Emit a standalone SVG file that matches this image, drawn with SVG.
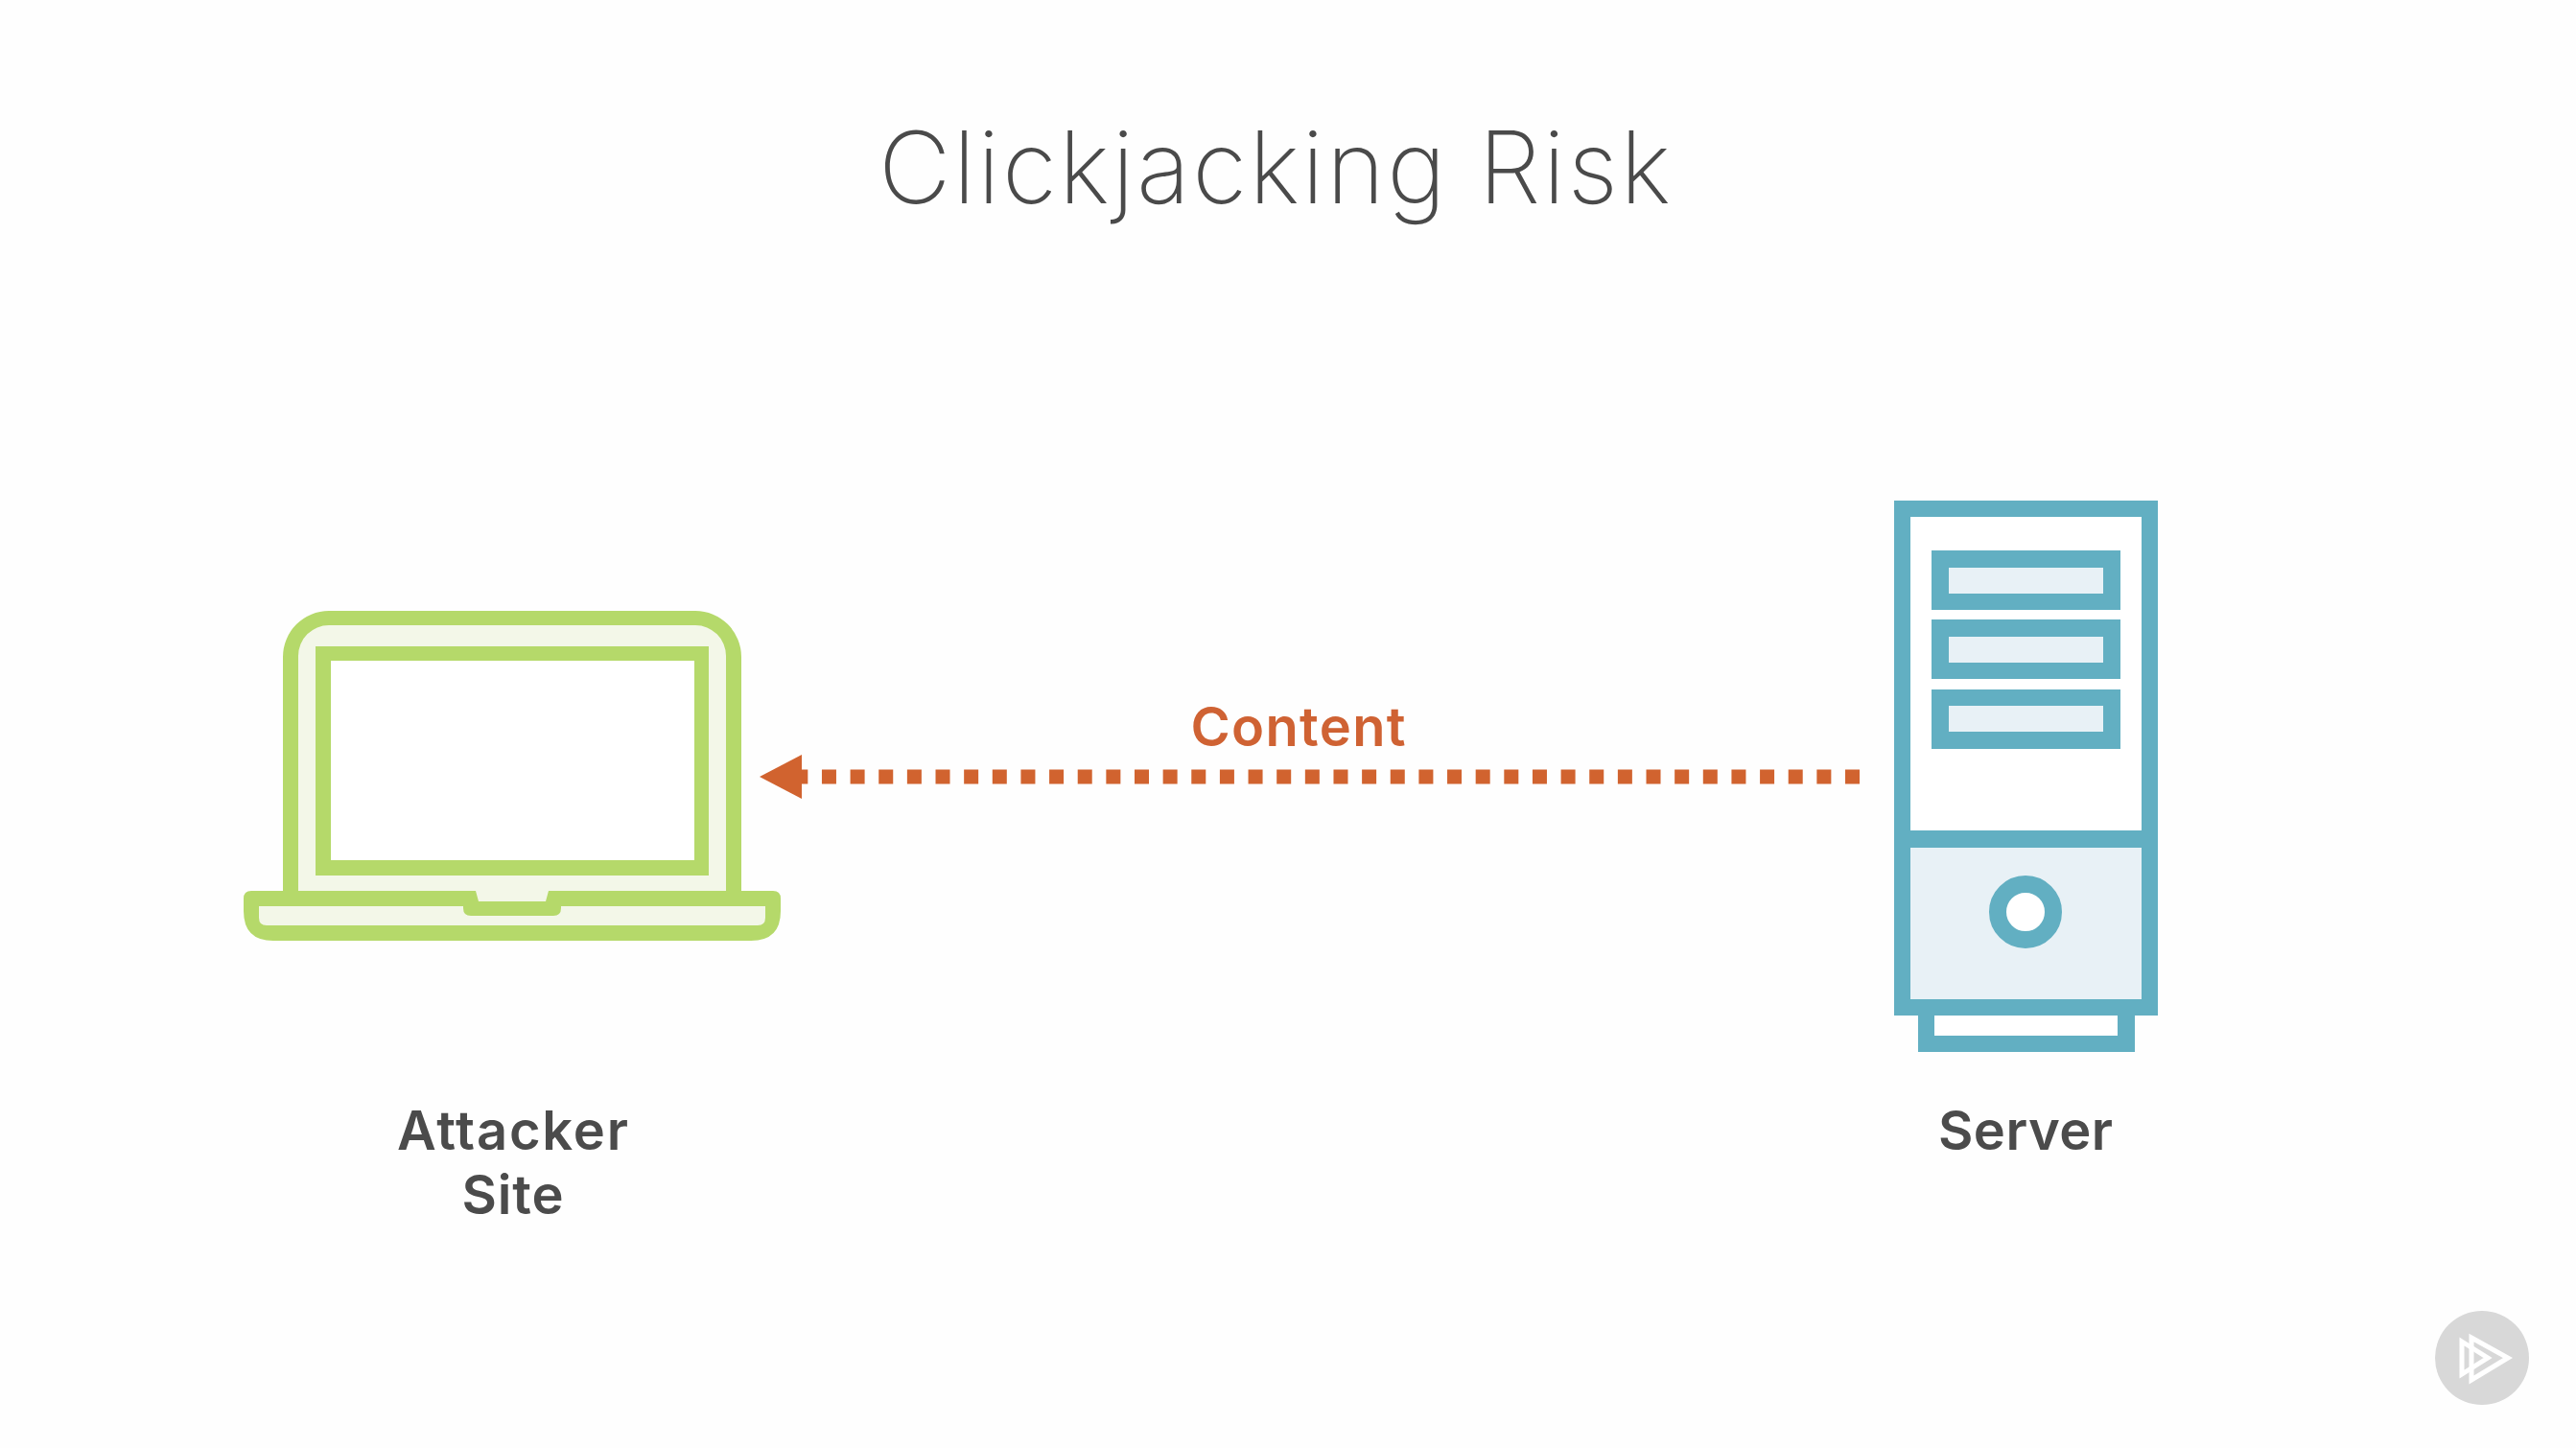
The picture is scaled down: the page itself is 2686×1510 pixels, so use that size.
<svg xmlns="http://www.w3.org/2000/svg" width="2686" height="1510" viewBox="0 0 2686 1510">
<style>
.t{font-family:"Inter","Noto Sans",sans-serif;text-anchor:middle}
.lbl{font-size:56px;font-weight:600;fill:#4b4b4b}
.g{fill:#b5d96a}
.b{fill:#62afc2}
.bl{fill:#e8f1f6}
</style>
<rect width="2686" height="1510" fill="#fefefe"/>
<text class="t" x="1329" y="212" font-size="104" font-weight="200" fill="#4a4a4a" textLength="826" id="title">Clickjacking Risk</text>
<g id="attacker-site">
<path class="g" d="M343 637H725A48 48 0 0 1 773 685V929H806Q814 929 814 937V950Q814 981 783 981H285Q254 981 254 950V937Q254 929 262 929H295V685A48 48 0 0 1 343 637Z"/>
<path fill="#f3f7e8" d="M343 652H725A32 32 0 0 1 757 684V929H572L569 940H499L496 929H311V684A32 32 0 0 1 343 652Z"/>
<path fill="#f3f7e8" d="M270 945H483V947Q483 955 491 955H577Q585 955 585 947V945H798V957Q798 965 790 965H278Q270 965 270 957Z"/>
<rect class="g" x="329" y="674" width="410" height="239"/>
<rect x="345" y="689" width="379" height="208" fill="#fff"/>
<text class="t lbl" x="534.5" y="1199" textLength="241">Attacker</text>
<text class="t lbl" x="534.5" y="1266" textLength="106">Site</text>
</g>
<g id="server">
<rect class="b" x="2000" y="1050" width="226" height="47"/>
<rect x="2017" y="1059" width="191" height="21" fill="#fff"/>
<rect class="b" x="1975" y="522" width="275" height="537"/>
<rect x="1992" y="539" width="241" height="327" fill="#fff"/>
<rect class="bl" x="1992" y="884" width="241" height="158"/>
<rect class="b" x="2014" y="574" width="197" height="62"/>
<rect class="bl" x="2032" y="592" width="161" height="27"/>
<rect class="b" x="2014" y="646" width="197" height="62"/>
<rect class="bl" x="2032" y="664" width="161" height="27"/>
<rect class="b" x="2014" y="719" width="197" height="62"/>
<rect class="bl" x="2032" y="736" width="161" height="27"/>
<circle cx="2112" cy="951" r="29" fill="#fff" stroke="#62afc2" stroke-width="18"/>
<text class="t lbl" x="2112" y="1199" textLength="182">Server</text>
</g>
<g id="connectors">
<line x1="1939" y1="810" x2="835" y2="810" stroke="#d1632f" stroke-width="15" stroke-dasharray="15 14.64"/>
<path d="M792 810L836 787V833Z" fill="#d1632f"/>
<text class="t" x="1353.5" y="778" font-size="56" font-weight="600" fill="#cf6233" textLength="224">Content</text>
</g>
<g id="play-badge">
<circle cx="2588" cy="1416" r="49" fill="#d8d8d8"/>
<path d="M2577 1395L2615 1416L2577 1439Z" fill="none" stroke="#fff" stroke-width="5"/>
<path d="M2567 1399L2594 1416L2567 1433Z" fill="none" stroke="#fff" stroke-width="5"/>
</g>
</svg>
